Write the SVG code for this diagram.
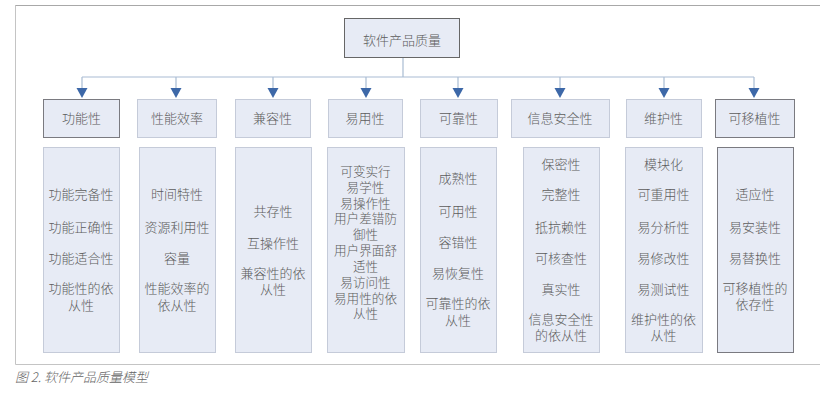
<svg xmlns="http://www.w3.org/2000/svg" width="820" height="406" viewBox="0 0 820 406">
<defs>
<style>
text{font-family:"Noto Sans CJK SC","Noto Sans",sans-serif;font-size:13px;font-weight:300;fill:#5c5c5c;text-anchor:middle;}
.box{fill:#e7ebf5;stroke:#c5cbd9;stroke-width:1;}
.dark{stroke:#7a7a80;}
.ln{stroke:#a9bcd3;stroke-width:1.2;fill:none;}
.ah{fill:#3d68a8;}
.cap{text-anchor:start;font-style:italic;fill:#666;}
.tight{font-size:12.6px;}
</style>
</defs>
<rect width="820" height="406" fill="#fff"/>
<g id="frame">
<path d="M825,5.5 H15.5 V364.5 H825" fill="none" stroke="#c4c4c4" stroke-width="1"/>
<path d="M15.5,5.5 H825" fill="none" stroke="#a8a8a8" stroke-width="1"/>
</g>
<g id="connectors">
<path class="ln" d="M403,57 V77 M82,77 H754"/>
<path d="M82,77 V88" class="ln"/><path class="ah" d="M76.5,88 H87.5 L82,98 Z"/>
<path d="M176,77 V88" class="ln"/><path class="ah" d="M170.5,88 H181.5 L176,98 Z"/>
<path d="M273,77 V88" class="ln"/><path class="ah" d="M267.5,88 H278.5 L273,98 Z"/>
<path d="M366,77 V88" class="ln"/><path class="ah" d="M360.5,88 H371.5 L366,98 Z"/>
<path d="M458,77 V88" class="ln"/><path class="ah" d="M452.5,88 H463.5 L458,98 Z"/>
<path d="M560,77 V88" class="ln"/><path class="ah" d="M554.5,88 H565.5 L560,98 Z"/>
<path d="M664,77 V88" class="ln"/><path class="ah" d="M658.5,88 H669.5 L664,98 Z"/>
<path d="M754,77 V88" class="ln"/><path class="ah" d="M748.5,88 H759.5 L754,98 Z"/>
</g>
<g id="root">
<rect class="box" x="344.5" y="18.5" width="115" height="39" style="stroke:#666"/>
<text x="402" y="45">软件产品质量</text>
</g>
<g id="cat1"><rect class="box dark" x="43.5" y="99.5" width="76" height="38"/><text x="81.5" y="123">功能性</text></g>
<g id="cat2"><rect class="box" x="137.5" y="99.5" width="79" height="38"/><text x="177" y="123">性能效率</text></g>
<g id="cat3"><rect class="box" x="235.5" y="99.5" width="75" height="38"/><text x="272.5" y="123">兼容性</text></g>
<g id="cat4"><rect class="box" x="328.5" y="99.5" width="74" height="38"/><text x="365" y="123">易用性</text></g>
<g id="cat5"><rect class="box" x="420.5" y="99.5" width="77" height="38"/><text x="458.5" y="123">可靠性</text></g>
<g id="cat6"><rect class="box" x="511.5" y="99.5" width="98" height="38"/><text x="560" y="123">信息安全性</text></g>
<g id="cat7"><rect class="box" x="626.5" y="99.5" width="75" height="38"/><text x="663.5" y="123">维护性</text></g>
<g id="cat8"><rect class="box dark" x="715.5" y="99.5" width="79" height="38"/><text x="754.5" y="123">可移植性</text></g>
<g id="det1"><rect class="box" x="43.5" y="147.5" width="76" height="205"/>
<text x="81" y="199">功能完备性</text><text x="81" y="232">功能正确性</text><text x="81" y="263">功能适合性</text><text x="81" y="293">功能性的依</text><text x="81" y="310">从性</text></g>
<g id="det2"><rect class="box" x="139.5" y="147.5" width="76" height="205"/>
<text x="177" y="199">时间特性</text><text x="177" y="232">资源利用性</text><text x="177" y="263">容量</text><text x="177" y="293">性能效率的</text><text x="177" y="310">依从性</text></g>
<g id="det3"><rect class="box" x="235.5" y="147.5" width="76" height="205"/>
<text x="273" y="216">共存性</text><text x="273" y="248">互操作性</text><text x="273" y="278">兼容性的依</text><text x="273" y="294">从性</text></g>
<g id="det4" class="tight"><rect class="box" x="327.5" y="147.5" width="77" height="205"/>
<text class="tight" x="365.5" y="176">可变实行</text><text class="tight" x="365.5" y="192">易学性</text><text class="tight" x="365.5" y="208">易操作性</text><text class="tight" x="365.5" y="223">用户差错防</text><text class="tight" x="365.5" y="239">御性</text><text class="tight" x="365.5" y="255">用户界面舒</text><text class="tight" x="365.5" y="271">适性</text><text class="tight" x="365.5" y="287">易访问性</text><text class="tight" x="365.5" y="303">易用性的依</text><text class="tight" x="365.5" y="318">从性</text></g>
<g id="det5"><rect class="box" x="420.5" y="147.5" width="76" height="205"/>
<text x="458" y="183">成熟性</text><text x="458" y="216">可用性</text><text x="458" y="247">容错性</text><text x="458" y="278">易恢复性</text><text x="458" y="308">可靠性的依</text><text x="458" y="325">从性</text></g>
<g id="det6"><rect class="box" x="523.5" y="147.5" width="76" height="205"/>
<text x="561" y="169">保密性</text><text x="561" y="199">完整性</text><text x="561" y="232">抵抗赖性</text><text x="561" y="263">可核查性</text><text x="561" y="294">真实性</text><text x="561" y="324">信息安全性</text><text x="561" y="340">的依从性</text></g>
<g id="det7"><rect class="box" x="625.5" y="147.5" width="77" height="205"/>
<text x="663.5" y="169">模块化</text><text x="663.5" y="199">可重用性</text><text x="663.5" y="232">易分析性</text><text x="663.5" y="263">易修改性</text><text x="663.5" y="294">易测试性</text><text x="663.5" y="324">维护性的依</text><text x="663.5" y="340">从性</text></g>
<g id="det8"><rect class="box dark" x="717.5" y="147.5" width="76" height="205"/>
<text x="755" y="199">适应性</text><text x="755" y="232">易安装性</text><text x="755" y="263">易替换性</text><text x="755" y="293">可移植性的</text><text x="755" y="309">依存性</text></g>
<text class="cap" x="15" y="382">图 2. 软件产品质量模型</text>
</svg>
